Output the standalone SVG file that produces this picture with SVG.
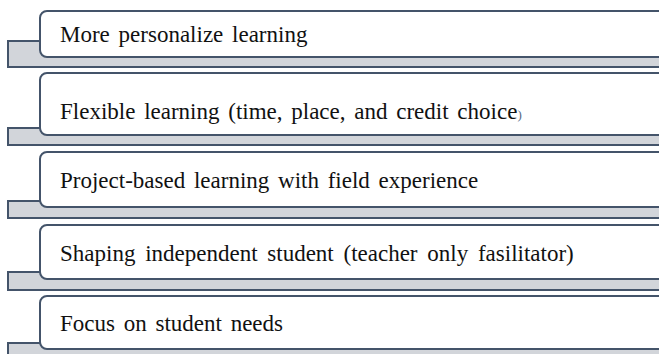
<svg xmlns="http://www.w3.org/2000/svg" width="659" height="354" viewBox="0 0 659 354">
  <style>
    .bar { fill: #d2d5da; stroke: #44546a; stroke-width: 2; }
    .card { fill: #ffffff; stroke: #44546a; stroke-width: 2; }
    .label { font-family: "Liberation Serif", "Times New Roman", serif; font-size: 23px; fill: #111111; }
    .paren { font-size: 13px; fill: #5a6b85; }
  </style>
  <rect width="659" height="354" fill="#ffffff"/>

  <!-- bracketed list: each item is a grey tab under a white rounded card -->
  <g id="item1">
    <rect class="bar" x="8" y="41" width="670" height="26"/>
    <rect class="card" x="40" y="11" width="640" height="46" rx="7"/>
    <text class="label" x="60" y="42" word-spacing="3">More personalize learning</text>
  </g>

  <g id="item2">
    <rect class="bar" x="8" y="128" width="670" height="17"/>
    <rect class="card" x="40" y="73" width="640" height="62" rx="7"/>
    <text class="label" x="60" y="119" word-spacing="3">Flexible learning (time, place, and credit choice<tspan class="paren">)</tspan></text>
  </g>

  <g id="item3">
    <rect class="bar" x="8" y="201" width="670" height="17"/>
    <rect class="card" x="40" y="152" width="640" height="55" rx="7"/>
    <text class="label" x="60" y="188" word-spacing="3">Project-based learning with field experience</text>
  </g>

  <g id="item4">
    <rect class="bar" x="8" y="272" width="670" height="18"/>
    <rect class="card" x="40" y="225" width="640" height="54" rx="7"/>
    <text class="label" x="60" y="261" word-spacing="4">Shaping independent student (teacher only fasilitator)</text>
  </g>

  <g id="item5">
    <rect class="bar" x="8" y="343" width="670" height="20"/>
    <rect class="card" x="40" y="296" width="640" height="53" rx="7"/>
    <text class="label" x="60" y="331" word-spacing="3">Focus on student needs</text>
  </g>
</svg>
